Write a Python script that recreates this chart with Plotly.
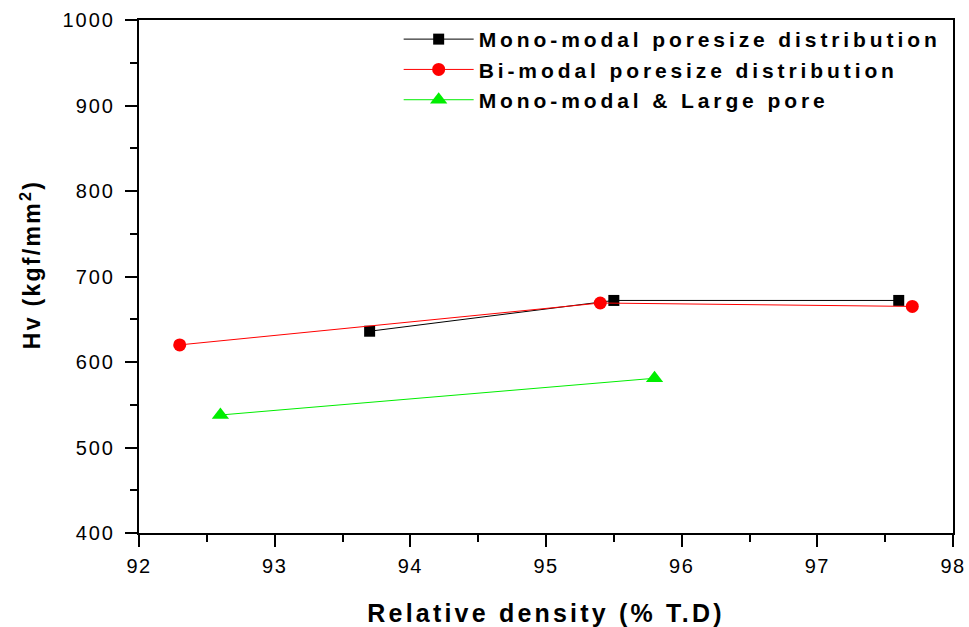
import plotly.graph_objects as go

mono_x = [93.7, 95.5, 97.6]
mono_y = [636, 672, 672]
bi_x = [92.3, 95.4, 97.7]
bi_y = [620, 669, 665]
large_x = [92.6, 95.8]
large_y = [538, 581]

names = ["Mono-modal poresize distribution",
         "Bi-modal poresize distribution",
         "Mono-modal &amp; Large pore"]

FONT = "Liberation Sans, Arial"

fig = go.Figure()
fig.add_trace(go.Scatter(x=mono_x, y=mono_y, mode="lines+markers", name=names[0],
                         line=dict(color="black", width=1),
                         marker=dict(symbol="square", size=11, color="black")))
fig.add_trace(go.Scatter(x=bi_x, y=bi_y, mode="lines+markers", name=names[1],
                         line=dict(color="red", width=1),
                         marker=dict(symbol="circle", size=13, color="red")))
fig.add_trace(go.Scatter(x=large_x, y=large_y, mode="lines+markers", name=names[2],
                         line=dict(color="#00ee00", width=1),
                         marker=dict(symbol="triangle-up", size=15, color="#00ee00")))

axis_common = dict(showgrid=False, zeroline=False, showline=True, linecolor="black",
                   linewidth=2, mirror=True, ticks="outside", tickwidth=2, ticklen=12,
                   tickcolor="black", automargin=False,
                   tickfont=dict(family=FONT, size=20, color="black"))

fig.update_xaxes(range=[92, 98], dtick=1, ticklabelstandoff=2,
                 minor=dict(dtick=0.5, ticks="outside", ticklen=7, tickwidth=2, tickcolor="black"),
                 title=dict(text="<b>Relative density (% T.D)</b>", standoff=28,
                            font=dict(family=FONT, size=25, color="black")),
                 **axis_common)
fig.update_yaxes(range=[400, 1000], dtick=100, ticklabelstandoff=6,
                 minor=dict(dtick=50, ticks="outside", ticklen=7, tickwidth=2, tickcolor="black"),
                 title=dict(text="<b>Hv (kgf/mm<sup>2</sup>)</b>", standoff=23,
                            font=dict(family=FONT, size=23, color="black")),
                 **axis_common)

fig.update_layout(
    width=969, height=627,
    margin=dict(l=139, r=16, t=20, b=94),
    paper_bgcolor="white", plot_bgcolor="white",
    legend=dict(x=0.319, y=1.002, xanchor="left", yanchor="top",
                bgcolor="rgba(0,0,0,0)", itemwidth=70, tracegroupgap=0,
                font=dict(family=FONT, size=21, color="black", weight="bold")),
)

post = """
var gd = document.getElementById('{plot_id}');
function sp(sel, v) { gd.querySelectorAll(sel).forEach(function(t){ t.style.letterSpacing = v; }); }
sp('.legendtext', '3.9px');
sp('.g-xtitle text', '3.2px');
sp('.g-ytitle text', '2.3px');
sp('.xtick text', '1.5px');
sp('.ytick text', '2px');
gd.querySelectorAll('.legend [clip-path]').forEach(function(e){ e.removeAttribute('clip-path'); });
var yt = gd.querySelector('.g-ytitle');
if (yt) { yt.setAttribute('transform', 'translate(0,-12)'); }
"""

fig.write_html("out.html", post_script=post)
